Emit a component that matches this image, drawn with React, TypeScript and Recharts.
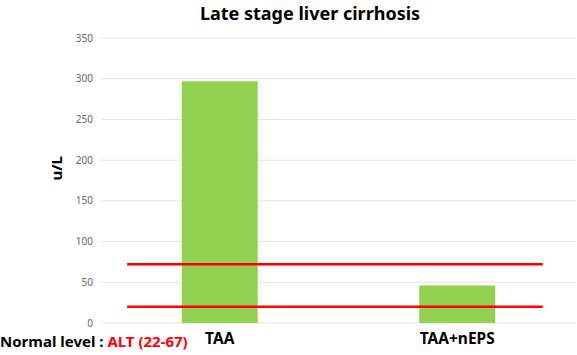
import React from "react";
import { ComposedChart, Bar, XAxis, YAxis, CartesianGrid, ReferenceLine } from "recharts";

const categories = ["TAA", "TAA+nEPS"];
const altValues = [297, 46];
const yTicks = [0, 50, 100, 150, 200, 250, 300, 350];
const normalLines = [72, 20];
const normalLineSpan = [0.055, 0.93];

const data = categories.map((c, i) => ({ name: c, value: altValues[i] }));

const FONT = "'Noto Sans', 'Open Sans', sans-serif";

export default function App() {
  return (
    <div style={{ position: "absolute", left: 0, top: 0, width: 577, height: 355, background: "#fff", fontFamily: FONT }}>
      <div style={{ position: "absolute", left: 0, top: 1, width: 620, textAlign: "center", fontSize: 18, fontWeight: 700, color: "#000" }}>
        Late stage liver cirrhosis
      </div>
      <ComposedChart
        width={577}
        height={355}
        data={data}
        margin={{ top: 38, right: 1, bottom: 0, left: 0 }}
        barCategoryGap="34%"
      >
        <CartesianGrid vertical={false} stroke="#e3e3e3" />
        <XAxis
          dataKey="name"
          axisLine={false}
          tickLine={false}
          height={32}
          tickMargin={4}
          tick={{ fill: "#000", fontSize: 15.5, fontWeight: 700, fontFamily: FONT }}
        />
        <XAxis xAxisId="ref" type="number" domain={[0, 1]} hide allowDataOverflow />
        <YAxis
          width={101}
          domain={[0, 350]}
          ticks={yTicks}
          axisLine={false}
          tickLine={false}
          tick={{ fill: "#666", fontSize: 10, fontFamily: FONT }}
          label={{ value: "u/L", angle: -90, position: "insideLeft", dx: 52, fill: "#000", fontSize: 15, fontWeight: 700, fontFamily: FONT }}
        />
        <Bar dataKey="value" fill="#92D050" isAnimationActive={false} />
        {normalLines.map((v) => (
          <ReferenceLine
            key={v}
            xAxisId="ref"
            ifOverflow="visible"
            segment={[{ x: normalLineSpan[0], y: v }, { x: normalLineSpan[1], y: v }]}
            stroke="#FF0000"
            strokeWidth={2.5}
          />
        ))}
      </ComposedChart>
      <div style={{ position: "absolute", left: 0, top: 331, fontSize: 15, fontWeight: 700, color: "#000", whiteSpace: "nowrap" }}>
        Normal level : <span style={{ color: "#FF0000" }}>ALT (22-67)</span>
      </div>
    </div>
  );
}
